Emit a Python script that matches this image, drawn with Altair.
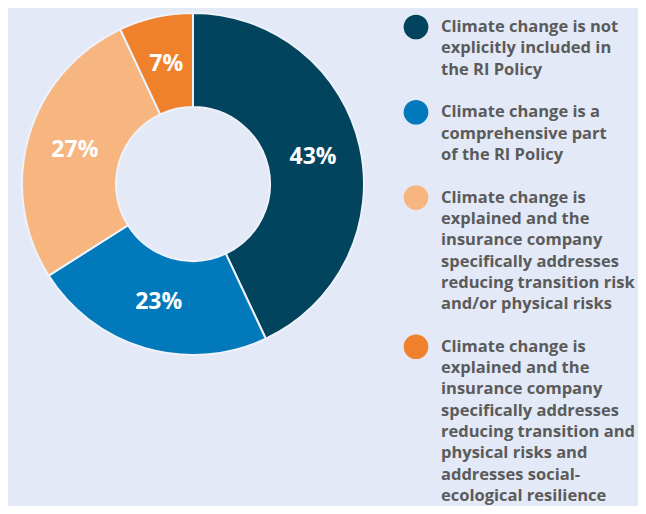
import altair as alt
import pandas as pd

# ---- data ----
categories = [
    "not_included",
    "comprehensive",
    "transition_or_physical",
    "transition_and_physical",
]
shares = [43, 23, 27, 7]
share_labels = ["43%", "23%", "27%", "7%"]
colors = ["#02445D", "#0279BB", "#F7B57F", "#F0812C"]
legend_texts = [
    ["Climate change is not", "explicitly included in", "the RI Policy"],
    ["Climate change is a", "comprehensive part", "of the RI Policy"],
    ["Climate change is", "explained and the", "insurance company",
     "specifically addresses", "reducing transition risk",
     "and/or physical risks"],
    ["Climate change is", "explained and the", "insurance company",
     "specifically addresses", "reducing transition and",
     "physical risks and", "addresses social-", "ecological resilience"],
]

BG = "#E3E9F6"
TEXT_GRAY = "#5B5B5B"
FONT = "Open Sans"

# ---- tables ----
pie_df = pd.DataFrame({
    "cat": categories,
    "value": shares,
    "label": share_labels,
    "idx": list(range(len(categories))),
})

rows_txt = []
rows_dot = []
start = 0
for cat, lines in zip(categories, legend_texts):
    rows_dot.append({"cat": cat, "line": start})
    for i, t in enumerate(lines):
        rows_txt.append({"cat": cat, "line": start + i, "text": t})
    start += len(lines) + 1
last_line = rows_txt[-1]["line"]
txt_df = pd.DataFrame(rows_txt)
dot_df = pd.DataFrame(rows_dot)

color_scale = alt.Scale(domain=categories, range=colors)
cx, cy = 185, 176

base = alt.Chart(pie_df).encode(
    theta=alt.Theta("value:Q", stack=True),
    order=alt.Order("idx:Q"),
)

arcs = base.mark_arc(
    outerRadius=171, innerRadius=77, stroke="#EEF2FA", strokeWidth=2
).encode(
    color=alt.Color("cat:N", scale=color_scale, legend=None),
    x=alt.value(cx),
    y=alt.value(cy),
)

labels = base.mark_text(
    radius=123, font=FONT, fontSize=23, fontWeight="bold", color="white",
    align="center", baseline="middle",
).encode(
    text="label:N",
    x=alt.value(cx),
    y=alt.value(cy),
)

yscale = alt.Scale(domain=[0, last_line], range=[19, 488])

dots = alt.Chart(dot_df).mark_circle(size=610, opacity=1).encode(
    x=alt.value(408),
    y=alt.Y("line:Q", scale=yscale, axis=None),
    color=alt.Color("cat:N", scale=color_scale, legend=None),
)

legend_text = alt.Chart(txt_df).mark_text(
    font=FONT, fontSize=16.5, fontWeight="bold", color=TEXT_GRAY,
    align="left", baseline="middle",
).encode(
    x=alt.value(433),
    y=alt.Y("line:Q", scale=yscale, axis=None),
    text="text:N",
)

chart = alt.layer(arcs, labels, dots, legend_text).properties(
    width=630, height=498,
    autosize=alt.AutoSizeParams(type="none"),
    padding=0,
    background=BG,
).configure_view(stroke=None)

chart.save("out.html", embed_options={"renderer": "svg", "actions": False})
